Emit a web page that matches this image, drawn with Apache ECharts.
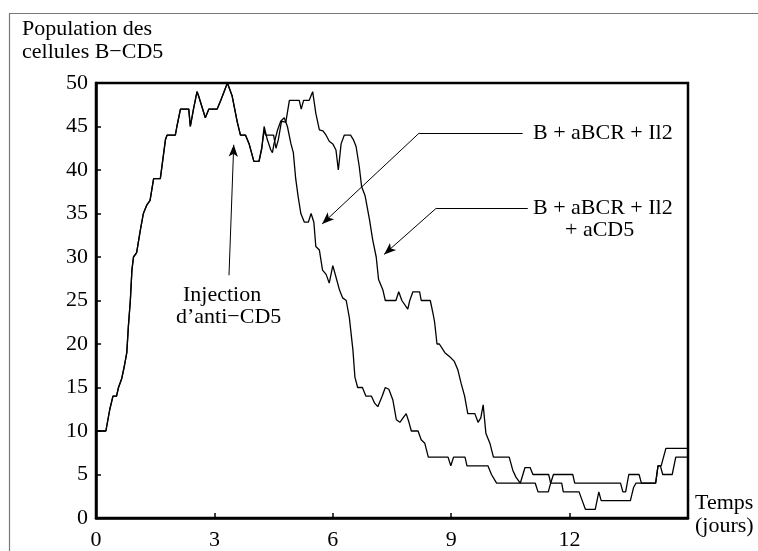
<!DOCTYPE html>
<html>
<head>
<meta charset="utf-8">
<script src="https://cdn.jsdelivr.net/npm/echarts@6/dist/echarts.min.js"></script>
<style>
    html, body { margin: 0; padding: 0; background: #fff; }
    #chart { width: 758px; height: 551px; }
</style>
</head>
<body>
<div id="chart"></div>
<script>
    // axes
    const xTicks = [0, 3, 6, 9, 12];
    const yTicks = [0, 5, 10, 15, 20, 25, 30, 35, 40, 45, 50];

    // both runs are identical until the anti-CD5 injection (~4.2 days)
    const commonPart = [
        [0, 10], [0.25, 10], [0.35, 12.5], [0.43, 14], [0.52, 14], [0.57, 15], [0.65, 16], [0.72, 17.5],
        [0.78, 19], [0.82, 22], [0.87, 25], [0.91, 28.5], [0.95, 30], [1.03, 30.5], [1.12, 33], [1.2, 35],
        [1.29, 36], [1.37, 36.5], [1.46, 39], [1.63, 39], [1.76, 43.5], [1.8, 44], [2.01, 44], [2.05, 45],
        [2.14, 47], [2.35, 47], [2.39, 45], [2.47, 47], [2.56, 49], [2.6, 48.5], [2.77, 46], [2.86, 47],
        [3.07, 47], [3.16, 48], [3.33, 50], [3.45, 48.5], [3.58, 45.5], [3.66, 44], [3.79, 44], [3.88, 43],
        [4.0, 41], [4.13, 41], [4.2, 42.5]
    ];

    // B + aBCR + Il2
    const il2Tail = [
        [4.26, 45], [4.34, 43.5], [4.43, 42.3], [4.47, 42], [4.51, 43], [4.6, 44.6], [4.68, 45.6], [4.77, 46],
        [4.85, 45], [4.94, 43], [5.0, 42], [5.06, 39], [5.12, 37], [5.19, 35], [5.28, 34], [5.38, 34],
        [5.45, 35], [5.52, 34], [5.57, 31.2], [5.66, 30.8], [5.74, 28.5], [5.83, 28], [5.91, 27], [6.0, 29],
        [6.08, 27.7], [6.17, 26.2], [6.25, 25.3], [6.34, 25], [6.42, 23], [6.51, 19.3], [6.56, 16.2], [6.63, 15],
        [6.75, 15], [6.84, 14], [6.98, 14], [7.06, 13.2], [7.14, 12.8], [7.25, 14], [7.33, 15], [7.42, 14.8],
        [7.52, 13.6], [7.61, 11.3], [7.7, 11], [7.78, 11.5], [7.86, 12], [7.93, 11], [7.99, 10], [8.16, 10],
        [8.24, 9], [8.33, 8.6], [8.42, 7], [8.92, 7], [8.99, 6], [9.06, 7], [9.35, 7], [9.4, 6],
        [9.93, 6], [10.02, 5], [10.15, 4], [11.13, 4], [11.2, 3], [11.46, 3], [11.52, 4], [11.59, 5],
        [12.08, 5], [12.13, 4], [13.29, 4], [13.35, 3], [13.42, 3], [13.5, 5], [13.76, 5], [13.82, 4],
        [14.18, 4], [14.24, 6], [14.3, 6], [14.36, 5], [14.6, 5], [14.69, 7], [15, 7]
    ];

    // B + aBCR + Il2 + aCD5
    const cd5Tail = [
        [4.26, 44.6], [4.3, 44], [4.5, 44], [4.56, 42.5], [4.62, 43.5], [4.7, 45.6], [4.81, 45.5], [4.9, 48],
        [5.15, 48], [5.2, 47], [5.26, 48], [5.4, 48], [5.49, 49], [5.57, 46.5], [5.66, 44.6], [5.75, 44.5],
        [5.83, 44], [5.91, 43.3], [6.0, 43], [6.08, 42.3], [6.14, 40], [6.21, 43], [6.29, 44], [6.45, 44],
        [6.52, 43.5], [6.59, 42.7], [6.67, 40.4], [6.73, 38.1], [6.82, 37], [6.93, 34.3], [7.01, 32], [7.1, 30],
        [7.16, 27.4], [7.27, 26.2], [7.33, 25], [7.6, 25], [7.67, 26], [7.75, 25], [7.9, 24], [7.95, 25],
        [8.03, 26], [8.2, 26], [8.24, 25], [8.47, 25], [8.54, 23.5], [8.58, 22.5], [8.64, 20], [8.7, 20],
        [8.84, 19], [8.97, 18.5], [9.08, 18], [9.17, 17], [9.25, 15.5], [9.34, 14], [9.42, 12], [9.6, 12],
        [9.68, 11], [9.75, 11.5], [9.81, 13], [9.88, 9.7], [9.98, 8.6], [10.07, 7], [10.47, 7], [10.56, 5.5],
        [10.64, 4.7], [10.75, 4], [10.8, 4.2], [10.87, 5.8], [11.0, 5.8], [11.07, 5], [11.47, 5], [11.52, 4],
        [11.8, 4], [11.84, 3], [12.24, 3], [12.32, 2], [12.4, 1], [12.65, 1], [12.74, 3], [12.8, 2],
        [13.54, 2], [13.62, 3.5], [13.68, 4], [14.18, 4], [14.24, 6], [14.32, 6], [14.44, 8], [15, 8]
    ];

    const il2Data = commonPart.concat(il2Tail);
    const cd5Data = commonPart.concat(cd5Tail);

    const serif = '"Liberation Serif", "Times New Roman", Times, serif';

    const arrowStyle = { color: '#000', width: 1, type: 'solid' };
    function leader(from, to, withArrow) {
        return [
            { coord: from, symbol: 'none' },
            { coord: to, symbol: withArrow ? 'arrow' : 'none', symbolSize: [7, 12] }
        ];
    }

    function txt(x, y, text) {
        return {
            type: 'text', x: x, y: y, silent: true,
            style: { text: text, fontFamily: serif, fontSize: 22, fill: '#000', lineHeight: 23 }
        };
    }

    const myChart = echarts.init(document.getElementById('chart'));
    myChart.setOption({
        animation: false,
        backgroundColor: '#fff',
        textStyle: { fontFamily: serif },
        grid: {
            left: 96, right: 70, top: 83, bottom: 33,
            show: true, borderColor: '#000', borderWidth: 2.5
        },
        xAxis: {
            type: 'value', min: 0, max: 15, interval: 3,
            axisLine: { lineStyle: { color: '#000', width: 2.5 } },
            axisTick: { inside: true, length: 5, lineStyle: { color: '#000', width: 1.5 } },
            splitLine: { show: false },
            axisLabel: {
                color: '#000', fontFamily: serif, fontSize: 22, margin: 11,
                formatter: v => xTicks.includes(v) ? String(v) : ''
            }
        },
        yAxis: {
            type: 'value', min: 0, max: 50, interval: 5,
            axisLine: { lineStyle: { color: '#000', width: 2.5 } },
            axisTick: { inside: true, length: 5, lineStyle: { color: '#000', width: 1.5 } },
            splitLine: { show: false },
            axisLabel: {
                color: '#000', fontFamily: serif, fontSize: 22, margin: 8,
                formatter: v => yTicks.includes(v) ? String(v) : ''
            }
        },
        series: [
            {
                name: 'B + aBCR + Il2',
                type: 'line',
                data: il2Data,
                showSymbol: false,
                lineStyle: { color: '#000', width: 1.3 },
                silent: true,
                markLine: {
                    silent: true,
                    label: { show: false },
                    lineStyle: arrowStyle,
                    emphasis: { disabled: true },
                    data: [
                        leader([10.81, 44.25], [8.19, 44.25], false),
                        leader([8.19, 44.25], [5.73, 33.8], true),
                        leader([10.94, 35.6], [8.62, 35.6], false),
                        leader([8.62, 35.6], [7.3, 30.3], true),
                        leader([3.37, 27.9], [3.49, 42.9], true)
                    ]
                }
            },
            {
                name: 'B + aBCR + Il2 + aCD5',
                type: 'line',
                data: cd5Data,
                showSymbol: false,
                lineStyle: { color: '#000', width: 1.3 },
                silent: true
            }
        ],
        graphic: [
            // outer frame of the figure
            { type: 'rect', shape: { x: 9.5, y: 13.5, width: 800, height: 600 }, style: { fill: null, stroke: '#777', lineWidth: 1.2 }, silent: true },
            txt(22, 18, 'Population des\ncellules B\u2212CD5'),
            txt(533, 122, 'B + aBCR + Il2'),
            txt(533, 197, 'B + aBCR + Il2'),
            txt(565, 219, '+ aCD5'),
            txt(183, 284, 'Injection'),
            txt(176, 306, 'd\u2019anti\u2212CD5'),
            txt(695, 492, 'Temps\n(jours)')
        ]
    });

    window.addEventListener('resize', function () {
        myChart.resize();
    });
</script>
</body>
</html>
